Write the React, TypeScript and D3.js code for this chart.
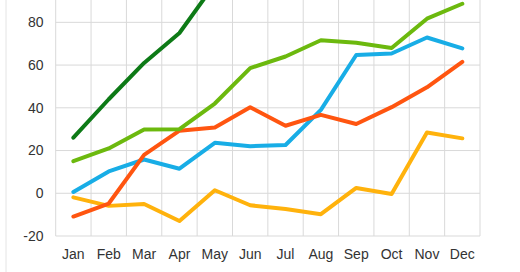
import React from "react";
import * as d3 from "d3";

const months = ["Jan", "Feb", "Mar", "Apr", "May", "Jun", "Jul", "Aug", "Sep", "Oct", "Nov", "Dec"];
const yTicks = [-20, 0, 20, 40, 60, 80, 100];

const darkGreen = [26, 44, 61, 75, 98];
const lightGreen = [15, 21, 29.8, 30, 42, 58.6, 64, 71.6, 70.4, 68, 81.7, 88.7];
const blue = [0.6, 10.2, 15.8, 11.5, 23.6, 22, 22.6, 39, 64.7, 65.4, 72.9, 67.8];
const orange = [-10.9, -4.8, 18, 29.3, 30.8, 40.3, 31.6, 36.7, 32.4, 40.3, 49.6, 61.5];
const yellow = [-1.9, -5.9, -5, -13, 1.4, -5.6, -7.4, -9.8, 2.5, -0.3, 28.4, 25.7];

const seriesList = [
  { name: "yellow", values: yellow, color: "#ffb20c" },
  { name: "blue", values: blue, color: "#18ade6" },
  { name: "orange", values: orange, color: "#ff5510" },
  { name: "lightGreen", values: lightGreen, color: "#6cb90e" },
  { name: "darkGreen", values: darkGreen, color: "#0d7a16" },
];

export default function App() {
  const W = 520, H = 272;
  const left = 55.7, right = 480, top = -20.4, bottom = 236;
  const x = d3.scaleBand<string>().domain(months).range([left, right]).padding(0);
  const y = d3.scaleLinear().domain([-20, 100]).range([bottom, top]);
  const line = d3
    .line<number>()
    .x((_, i) => (x(months[i]) as number) + x.bandwidth() / 2)
    .y((d) => y(d));
  const edges = months.map((m) => x(m) as number).concat([right]);

  return (
    <svg width={W} height={H} style={{ position: "absolute", left: 0, top: 0, display: "block" }}>
      <rect x={0} y={0} width={W} height={H} fill="#fff" />
      <line x1={6} x2={6} y1={0} y2={H} stroke="#e4e4e4" strokeWidth={1} />
      {yTicks.map((t) => (
        <line key={"h" + t} x1={left} x2={right} y1={y(t)} y2={y(t)} stroke="#d9d9d9" strokeWidth={1} />
      ))}
      {edges.map((e, i) => (
        <line key={"v" + i} x1={e} x2={e} y1={top} y2={bottom} stroke="#d9d9d9" strokeWidth={1} />
      ))}
      {seriesList.map((s) => (
        <path
          key={s.name}
          d={line(s.values) || ""}
          fill="none"
          stroke={s.color}
          strokeWidth={4}
          strokeLinejoin="round"
          strokeLinecap="round"
        />
      ))}
      {yTicks
        .filter((t) => t <= 80)
        .map((t) => (
          <text
            key={"yt" + t}
            x={43.5}
            y={y(t)}
            dy="0.35em"
            textAnchor="end"
            fontFamily="Liberation Sans, Arial, sans-serif"
            fontSize={14}
            fill="#333"
          >
            {t}
          </text>
        ))}
      {months.map((m) => (
        <text
          key={"xt" + m}
          x={(x(m) as number) + x.bandwidth() / 2}
          y={259}
          textAnchor="middle"
          fontFamily="Liberation Sans, Arial, sans-serif"
          fontSize={14}
          fill="#333"
        >
          {m}
        </text>
      ))}
    </svg>
  );
}
